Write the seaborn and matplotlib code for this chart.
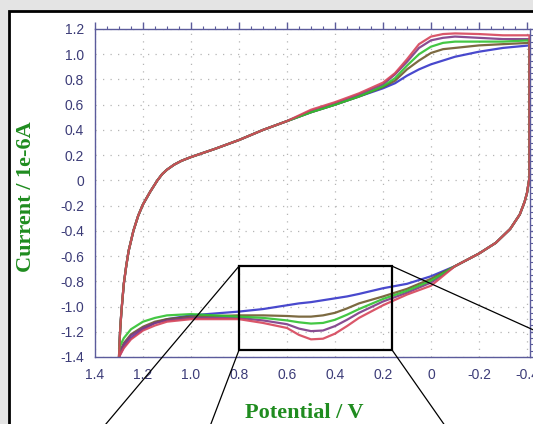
import numpy as np
import pandas as pd
import seaborn as sns
import matplotlib.pyplot as plt
from matplotlib.patches import Rectangle, ConnectionPatch
from matplotlib.ticker import MultipleLocator, FuncFormatter

# potential grid, forward (anodic) sweep then reverse (cathodic) sweep
e_fwd = [1.30, 1.298, 1.295, 1.29, 1.28, 1.27, 1.26, 1.24, 1.22, 1.20, 1.17, 1.14,
         1.12, 1.10, 1.07, 1.04, 1.00, 0.90, 0.80, 0.70, 0.60,
         0.50, 0.40, 0.30, 0.20, 0.15, 0.10, 0.05, 0.00, -0.05, -0.10, -0.20, -0.30, -0.41]
e_rev = [-0.41, -0.40, -0.39, -0.37, -0.33, -0.27, -0.20, -0.10,
         0.00, 0.10, 0.20, 0.30, 0.35, 0.40, 0.45, 0.50, 0.55, 0.60, 0.70, 0.80, 0.90,
         1.00, 1.10, 1.15, 1.20, 1.25, 1.28, 1.30]

# shared parts of the loop (all scans overlap here)
i_fwd_common = [-1.40, -1.30, -1.18, -1.04, -0.82, -0.68, -0.56, -0.40, -0.28, -0.19, -0.09, 0.00,
                0.05, 0.085, 0.125, 0.155, 0.185, 0.25, 0.32, 0.40, 0.47]
i_rev_common = [0.02, -0.10, -0.17, -0.27, -0.385, -0.495, -0.58, -0.68]

# per-scan parts, current in 1e-6 A
fwd_blue = [0.54, 0.60, 0.665, 0.73, 0.77, 0.83, 0.88, 0.92, 0.95, 0.98, 1.02, 1.05, 1.07]
fwd_olive = [0.54, 0.60, 0.665, 0.74, 0.79, 0.88, 0.95, 1.01, 1.04, 1.05, 1.07, 1.08, 1.09]
fwd_green = [0.54, 0.60, 0.665, 0.745, 0.81, 0.91, 1.00, 1.06, 1.09, 1.10, 1.10, 1.10, 1.11]
fwd_purple = [0.55, 0.61, 0.68, 0.76, 0.84, 0.94, 1.05, 1.11, 1.13, 1.14, 1.13, 1.12, 1.12]
fwd_red = [0.56, 0.62, 0.69, 0.775, 0.85, 0.96, 1.08, 1.14, 1.16, 1.165, 1.16, 1.15, 1.15]

rev_blue = [-0.76, -0.82, -0.855, -0.90, -0.92, -0.935, -0.95, -0.965, -0.975, -0.99, -1.02,
            -1.04, -1.055, -1.07, -1.10, -1.13, -1.18, -1.25, -1.32, -1.40]
rev_olive = [-0.78, -0.86, -0.92, -0.975, -1.015, -1.05, -1.07, -1.08, -1.08, -1.075, -1.07,
             -1.07, -1.075, -1.08, -1.10, -1.12, -1.16, -1.22, -1.29, -1.37]
rev_green = [-0.795, -0.875, -0.94, -1.02, -1.065, -1.105, -1.13, -1.135, -1.125, -1.11, -1.09,
             -1.08, -1.07, -1.06, -1.07, -1.09, -1.12, -1.18, -1.25, -1.33]
rev_purple = [-0.81, -0.89, -0.96, -1.05, -1.105, -1.155, -1.19, -1.195, -1.175, -1.14, -1.11,
              -1.09, -1.09, -1.09, -1.11, -1.13, -1.17, -1.23, -1.30, -1.38]
rev_red = [-0.835, -0.905, -0.99, -1.09, -1.155, -1.215, -1.255, -1.26, -1.225, -1.17, -1.13,
           -1.10, -1.10, -1.10, -1.12, -1.15, -1.19, -1.26, -1.33, -1.40]

scans = ['blue', 'olive', 'purple', 'green', 'red']
fwd = {'blue': fwd_blue, 'olive': fwd_olive, 'green': fwd_green, 'purple': fwd_purple, 'red': fwd_red}
rev = {'blue': rev_blue, 'olive': rev_olive, 'green': rev_green, 'purple': rev_purple, 'red': rev_red}
colors = {'blue': '#3535c8', 'olive': '#6e5a2c', 'green': '#2fc12f', 'purple': '#7c3a86', 'red': '#d6455a'}

rows = []
for s in scans:
    cur = i_fwd_common + fwd[s] + i_rev_common + rev[s]
    pot = e_fwd + e_rev
    for k, (e, i) in enumerate(zip(pot, cur)):
        rows.append({'scan': s, 'step': k, 'E': e, 'I': i})
df = pd.DataFrame(rows)

sns.set_theme(style="white")
plt.rcParams['font.family'] = ['Liberation Sans', 'DejaVu Sans']

W, H = 533, 424
fig = plt.figure(figsize=(W / 100, H / 100), dpi=100, facecolor='#e4e4e4')
# white panel with black frame (cut by the image edge on right and bottom)
fig.patches.append(Rectangle((9 / W, -0.2), 1.2, 1 - 11 / H + 0.2, transform=fig.transFigure,
                             facecolor='white', edgecolor='black', lw=2, zorder=-5))

ax = fig.add_axes([95 / W, 1 - 357 / H, (530 - 95) / W, (357 - 29) / H])
ax.set_facecolor('white')

sns.lineplot(data=df, x='E', y='I', hue='scan', palette=colors, hue_order=scans,
             sort=False, estimator=None, lw=1.6, alpha=0.9, legend=False, ax=ax)

ax.set_xlim(1.4, -0.4125)
ax.set_ylim(-1.4, 1.2)

spine_col = '#5b5b9b'
label_col = '#3c3c78'
for sp in ax.spines.values():
    sp.set_color(spine_col)
    sp.set_linewidth(1.0)

ax.xaxis.set_major_locator(MultipleLocator(0.2))
ax.xaxis.set_minor_locator(MultipleLocator(0.05))
ax.yaxis.set_major_locator(MultipleLocator(0.2))
ax.yaxis.set_minor_locator(MultipleLocator(0.05))
fmt = FuncFormatter(lambda v, p: '0' if abs(v) < 1e-9 else f'{v:.1f}')
ax.xaxis.set_major_formatter(fmt)
ax.yaxis.set_major_formatter(fmt)
ax.tick_params(which='both', direction='out', color=spine_col, top=True, right=True,
               labelcolor=label_col, labelsize=10)
ax.tick_params(which='major', length=5, width=1, pad=3)
ax.tick_params(which='minor', length=2.5, width=0.8)

ax.grid(True, which='major', color='#b5b5b5', linestyle=(0, (1, 5)), lw=0.9)
ax.set_axisbelow(True)

ax.set_xlabel('')
ax.set_ylabel('')
lab_style = dict(family=['Liberation Serif', 'DejaVu Serif'], fontweight='bold', fontsize=16, color='#1f8c1f')
fig.text(304 / W, 1 - 413 / H, 'Potential / V', ha='center', va='center', **lab_style)
fig.text(26 / W, 1 - 197 / H, 'Current / 1e-6A', ha='center', va='center', rotation=90, **lab_style)

# zoom box and the lines leading to the (cropped) inset
box_x0, box_x1 = 0.162, 0.80
box_y0, box_y1 = -1.345, -0.68
ax.add_patch(Rectangle((box_x0, box_y0), box_x1 - box_x0, box_y1 - box_y0,
                       fill=False, edgecolor='black', lw=1.6, zorder=5))
links = [((box_x1, box_y1), (84 / W, 1 - 450 / H)),
         ((box_x1, box_y0), (201 / W, 1 - 450 / H)),
         ((box_x0, box_y0), (462 / W, 1 - 450 / H)),
         ((box_x0, box_y1), (600 / W, 1 - 360 / H))]
for a, b in links:
    fig.add_artist(ConnectionPatch(xyA=a, coordsA=ax.transData, xyB=b, coordsB=fig.transFigure,
                                   color='black', lw=0.9, zorder=6))

fig.savefig('out.png', dpi=100, facecolor=fig.get_facecolor())
